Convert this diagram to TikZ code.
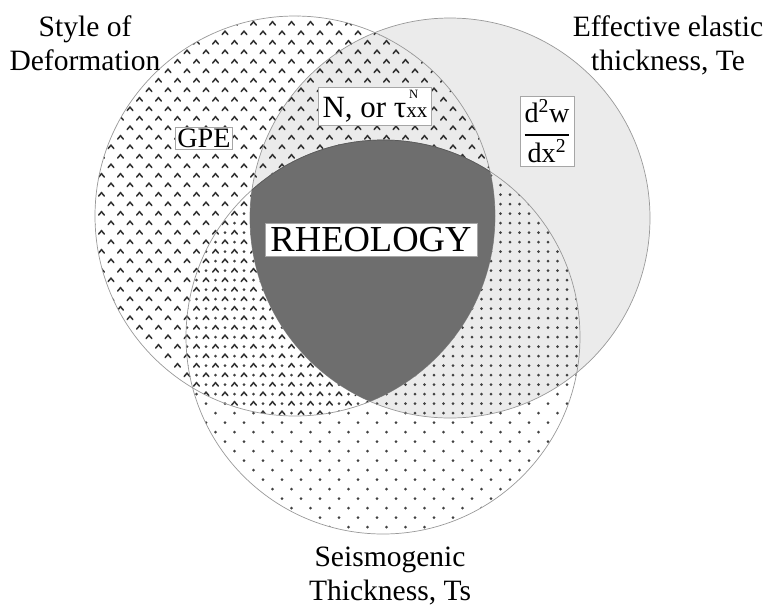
\documentclass[tikz,border=0pt]{standalone}
\usepackage{amsmath}
\usepackage{fontspec}
\setmainfont{Liberation Serif}

\tikzset{
  ring/.style={draw=black!40, line width=0.5pt},
  hatch/.pic={\draw[black!80, line width=1.1pt, line cap=round] (-2.9,1.6) -- (0,-1.8) -- (2.9,1.6);},
  speck/.style={fill=black!75},
  labelbox/.style={fill=white, draw=black!35, line width=0.4pt, inner sep=1.5pt},
  title/.style={align=center, inner sep=0pt, font=\fontsize{21}{24}\selectfont},
}

\newcommand{\deformpath}{(cdef) circle [radius=200]}
\newcommand{\elasticpath}{(cela) circle [radius=200]}
\newcommand{\seismopath}{(cseis) circle [radius=197]}

\begin{document}
\begin{tikzpicture}[x=0.025cm, y=-0.025cm]
    \useasboundingbox (0,0) rectangle (770,608);

    \coordinate (cdef) at (295,216);
    \coordinate (cela) at (450,218);
    \coordinate (cseis) at (383,337);

    % elastic thickness: light grey disc
    \fill[black!8] \elasticpath;

    % style of deformation: carets
    \begin{scope}
      \clip \deformpath;
      \foreach \j in {0,...,44} {
        \pgfmathsetmacro{\sh}{mod(\j,2)*9.5}
        \foreach \i in {0,...,21}
          \pic at (92+19*\i+\sh, 14+9.5*\j) {hatch};
      }
    \end{scope}

    % seismogenic thickness: dots
    \begin{scope}
      \clip \seismopath;
      \foreach \j in {13,...,56} {
        \pgfmathsetmacro{\sh}{(1-mod(\j,2))*9.5}
        \foreach \i in {4,...,26}
          \fill[speck] (92+19*\i+\sh, 14+9.5*\j) circle [radius=1.5];
      }
    \end{scope}
    \begin{scope}
      \clip \seismopath;
      \clip \elasticpath;
      \foreach \j in {13,...,46} {
        \pgfmathsetmacro{\sh}{mod(\j,2)*9.5}
        \foreach \i in {4,...,26}
          \fill[speck] (92+19*\i+\sh, 14+9.5*\j) circle [radius=1.5];
      }
    \end{scope}

    \draw[ring] \deformpath;
    \draw[ring] \elasticpath;
    \draw[ring] \seismopath;

    % rheology: all three
    \begin{scope}
      \clip \deformpath;
      \clip \elasticpath;
      \fill[black!57, draw=black!65, line width=0.5pt] \seismopath;
    \end{scope}

    \node[labelbox, font=\fontsize{26}{30}\selectfont, inner xsep=4pt, inner ysep=3pt] (rheo) at (371,240) {RHEOLOGY};
    \node[labelbox, font=\fontsize{20}{23}\selectfont, inner ysep=1pt] (gpe) at (204,138) {GPE};
    \node[labelbox, font=\fontsize{22}{26}\selectfont, inner xsep=3pt, inner ysep=2pt] (stress) at (375,106)
      {N, or τ\rlap{\raisebox{1.35ex}{\fontsize{9}{9}\selectfont\kern2pt N}}{\fontsize{15}{15}\selectfont xx}};
    \node[labelbox, font=\fontsize{20}{24}\selectfont, inner sep=2pt] (curv) at (547,131)
      {$\displaystyle\frac{\text{d\textsuperscript{2}w}}{\text{dx\textsuperscript{2}}}$};

    \node[title] (style) at (85,43) {Style of\\Deformation};
    \node[title] (elastic) at (668,45) {Effective elastic\\thickness, Te};
    \node[title] (seismo) at (390,576) {Seismogenic\\Thickness, Ts};
\end{tikzpicture}
\end{document}
